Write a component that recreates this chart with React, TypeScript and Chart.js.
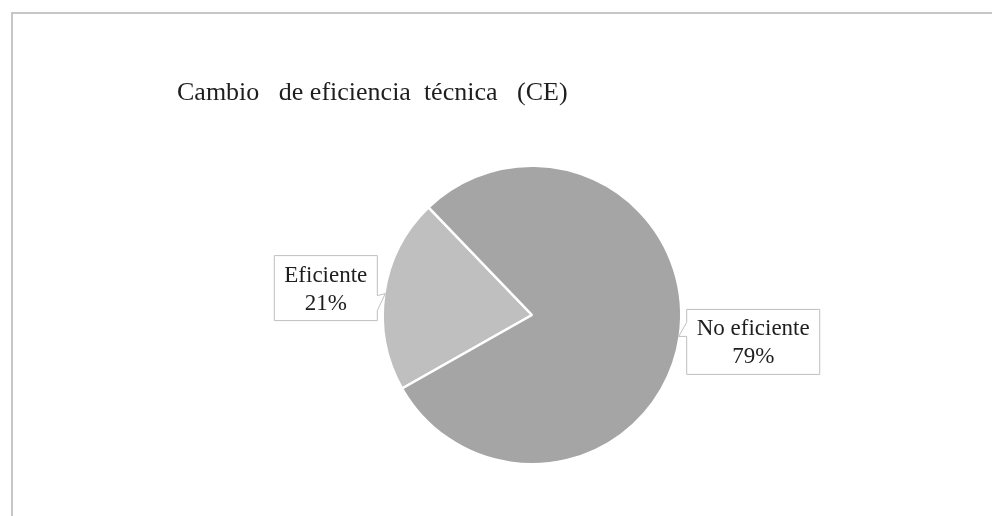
import React, { useEffect, useRef } from "react";
import { Chart, registerables } from "chart.js";

Chart.register(...registerables);

const TITLE = "Cambio   de eficiencia  técnica   (CE)";
const categories = ["Eficiente", "No eficiente"];
const values = [21, 79];
const percentLabels = ["21%", "79%"];
const sliceColors = ["#bfbfbf", "#a5a5a5"];

const FONT = '"Liberation Serif", "Times New Roman", serif';

const decorPlugin = {
  id: "decor",
  beforeDraw(chart: any) {
    const ctx = chart.ctx;
    ctx.save();
    ctx.strokeStyle = "#c6c6c6";
    ctx.lineWidth = 2;
    ctx.strokeRect(12, 13, 2000, 2000);
    ctx.restore();
  },
  afterDraw(chart: any) {
    const ctx = chart.ctx;
    ctx.save();
    // title
    ctx.fillStyle = "#1e1e1e";
    ctx.font = `26px ${FONT}`;
    ctx.textAlign = "left";
    ctx.textBaseline = "alphabetic";
    ctx.fillText(TITLE, 177, 100);

    // callout labels
    const meta = chart.getDatasetMeta(0);
    meta.data.forEach((arc: any, i: number) => {
      const { x, y, startAngle, endAngle, outerRadius } = arc.getProps(
        ["x", "y", "startAngle", "endAngle", "outerRadius"],
        true
      );
      const mid = (startAngle + endAngle) / 2;
      const r = outerRadius - 1;
      const tx = x + Math.cos(mid) * r;
      const ty = y + Math.sin(mid) * r;
      const lines = [categories[i], percentLabels[i]];
      ctx.font = `23px ${FONT}`;
      const tw = Math.max(...lines.map((l) => ctx.measureText(l).width));
      const w = tw + 20;
      const h = 65;
      const leftSide = Math.cos(mid) < 0;
      let bx: number, by: number;
      ctx.beginPath();
      if (leftSide) {
        bx = tx - 8 - w;
        by = ty - 38;
        ctx.moveTo(bx, by);
        ctx.lineTo(bx + w, by);
        ctx.lineTo(bx + w, ty + 2);
        ctx.lineTo(tx, ty);
        ctx.lineTo(bx + w, ty + 17);
        ctx.lineTo(bx + w, by + h);
        ctx.lineTo(bx, by + h);
        ctx.closePath();
      } else {
        bx = tx + 8;
        by = ty - 27;
        ctx.moveTo(bx, by);
        ctx.lineTo(bx + w, by);
        ctx.lineTo(bx + w, by + h);
        ctx.lineTo(bx, by + h);
        ctx.lineTo(bx, ty);
        ctx.lineTo(tx, ty);
        ctx.lineTo(bx, ty - 14);
        ctx.closePath();
      }
      ctx.fillStyle = "#ffffff";
      ctx.fill();
      ctx.strokeStyle = "#bfbfbf";
      ctx.lineWidth = 1;
      ctx.stroke();
      ctx.fillStyle = "#1e1e1e";
      ctx.textAlign = "center";
      const cx = bx + w / 2;
      ctx.fillText(lines[0], cx, by + 26);
      ctx.fillText(lines[1], cx, by + 54);
    });
    ctx.restore();
  },
};

export default function App() {
  const ref = useRef<HTMLCanvasElement>(null);
  useEffect(() => {
    if (!ref.current) return;
    const chart = new Chart(ref.current, {
      type: "pie",
      data: {
        labels: categories,
        datasets: [
          {
            data: values,
            backgroundColor: sliceColors,
            borderColor: "#ffffff",
            borderWidth: 2.5,
          },
        ],
      },
      options: {
        responsive: false,
        animation: false,
        rotation: 240.5,
        layout: {
          padding: { left: 381.5, right: 309.5, top: 164.5, bottom: 50.5 },
        },
        plugins: {
          legend: { display: false },
          tooltip: { enabled: false },
          title: { display: false },
        },
      },
      plugins: [decorPlugin],
    });
    return () => chart.destroy();
  }, []);
  return (
    <div style={{ position: "fixed", left: 0, top: 0, width: 992, height: 516, background: "#fff" }}>
      <canvas ref={ref} width={992} height={516} style={{ display: "block" }} />
    </div>
  );
}
